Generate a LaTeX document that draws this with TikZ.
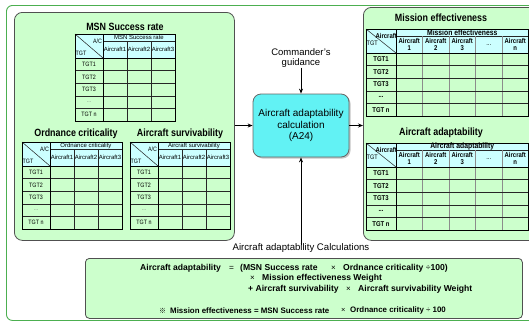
\documentclass[tikz,border=0pt]{standalone}
\usepackage{fontspec}
\setmainfont{Liberation Sans}
\newfontfamily\condfont{Liberation Sans}[FakeStretch=0.85]
\newfontfamily\cjk{Noto Sans CJK KR}
\usetikzlibrary{arrows.meta,shadows}
\definecolor{panelgreen}{HTML}{CCFFCC}
\definecolor{hdrcyan}{HTML}{CCFFFF}
\definecolor{boxcyan}{HTML}{62F2F4}
\definecolor{outergreen}{HTML}{4CAF50}
\definecolor{bordergray}{HTML}{505050}
\tikzset{
  panel/.style={draw=bordergray, fill=panelgreen, rounded corners=8pt, line width=0.8pt, inner sep=0pt, anchor=north west},
  ttl/.style={font=\condfont\bfseries\fontsize{10.5}{12}\selectfont, inner sep=0pt},
  cell/.style={font=\condfont\fontsize{6.3}{6.5}\selectfont, inner sep=0pt},
  hcell/.style={font=\fontsize{6}{6.5}\selectfont, inner sep=0pt},
  rcell/.style={font=\condfont\bfseries\fontsize{7}{7.2}\selectfont, inner sep=0pt, align=center},
  grid/.style={line width=0.5pt, draw=black!85},
  tborder/.style={line width=0.8pt, draw=black},
  arr/.style={-{Stealth[length=5pt,width=4pt]}, line width=0.9pt},
  fml/.style={font=\bfseries\fontsize{8.6}{9}\selectfont, inner sep=0pt, anchor=west},
  fmls/.style={font=\bfseries\fontsize{7.9}{8}\selectfont, inner sep=0pt, anchor=west},
}
\newcommand\lefttable[4]{%
\begin{scope}[shift={(#1,#2)}]
  \fill[hdrcyan] (0,0) rectangle (100,24);
  \draw[grid] (28,7.5) -- (100,7.5);
  \draw[grid] (52,7.5) -- (52,87) (76,7.5) -- (76,87);
  \foreach \k in {1,...,4} \draw[grid] (0,24+12.6*\k) -- (100,24+12.6*\k);
  \draw[tborder] (0,24) -- (100,24) (28,0) -- (28,87);
  \draw[grid] (0,0) -- (28,24);
  \draw[tborder] (0,0) rectangle (100,87);
  \node[cell,anchor=north east] (#3ac) at (27.3,5) {A/C};
  \node[cell,anchor=west] (#3tgt) at (0.5,19) {TGT};
  \node[hcell] (#3hd) at (64,3.6) {#4};
  \node[hcell] (#3c1) at (40,15.8) {Aircraft1};
  \node[hcell] (#3c2) at (64,15.8) {Aircraft2};
  \node[hcell] (#3c3) at (88,15.8) {Aircraft3};
  \node[cell] (#3r1) at (14,30.3) {TGT1};
  \node[cell] (#3r2) at (14,42.9) {TGT2};
  \node[cell] (#3r3) at (14,55.5) {TGT3};
  \node[cell,text=black!50] (#3r4) at (14,68.1) {...};
  \node[cell] (#3r5) at (14,80.7) {TGT n};
\end{scope}}
\newcommand\righttable[4]{%
\begin{scope}[shift={(#1,#2)}]
  \fill[hdrcyan] (0,0) rectangle (162.5,24);
  \draw[grid] (30,7) -- (162.5,7);
  \foreach \c in {56.5,83,109.5,136} \draw[grid, line width=1pt, draw=black!45] (\c,7) -- (\c,87);
  \foreach \k in {1,...,4} \draw[grid] (0,24+12.6*\k) -- (162.5,24+12.6*\k);
  \draw[tborder] (0,24) -- (162.5,24) (30,0) -- (30,87);
  \draw[grid] (0,0) -- (30,24);
  \draw[tborder] (0,0) rectangle (162.5,87);
  \node[rcell,anchor=east] (#3ac) at (31,7) {Aircraft};
  \node[rcell,anchor=west,font=\condfont\fontsize{6.5}{7}\selectfont] (#3tgt) at (0.5,14) {TGT};
  \node[rcell,font=\condfont\bfseries\fontsize{8}{8}\selectfont] (#3hd) at (96.25,3.4) {#4};
  \node[rcell] (#3c1) at (43.25,15.8) {Aircraft\\1};
  \node[rcell] (#3c2) at (69.75,15.8) {Aircraft\\2};
  \node[rcell] (#3c3) at (96.25,15.8) {Aircraft\\3};
  \node[rcell,font=\condfont\fontsize{7}{7}\selectfont] (#3c4) at (122.75,15.8) {...};
  \node[rcell] (#3c5) at (149.25,15.8) {Aircraft\\n};
  \node[rcell] (#3r1) at (15,30.3) {TGT1};
  \node[rcell] (#3r2) at (15,42.9) {TGT2};
  \node[rcell] (#3r3) at (15,55.5) {TGT3};
  \node[rcell] (#3r4) at (15,68.1) {...};
  \node[rcell] (#3r5) at (15,80.7) {TGT n};
\end{scope}}
\begin{document}
\begin{tikzpicture}[x=1pt,y=-1pt]
\useasboundingbox (0,0) rectangle (529,322);
% outer frame
\node[draw=outergreen, fill=white, line width=0.9pt, rounded corners=6pt, inner sep=0pt, anchor=north west, minimum width=540pt, minimum height=315pt] (outer) at (6,5) {};
% panels
\node[panel, minimum width=220pt, minimum height=228pt] (lp) at (14,12) {};
\node[panel, minimum width=175pt, minimum height=233pt] (rp) at (363,7) {};
% left panel content
\node[ttl] (t1) at (125,27) {MSN Success rate};
\lefttable{75}{34}{msn}{MSN Success rate}
\node[ttl] (t2) at (76,134) {Ordnance criticality};
\lefttable{22}{142}{ord}{Ordnance criticality}
\node[ttl] (t3) at (180,134) {Aircraft survivability};
\lefttable{130}{142}{sur}{Aircraft survivability}
% right panel content
\node[ttl] (t4) at (441,18) {Mission effectiveness};
\righttable{366}{29}{me}{Mission effectiveness}
\node[ttl] (t5) at (441,133) {Aircraft adaptability};
\righttable{366}{143}{aa}{Aircraft adaptability}
% centre
\node[draw=black!60, fill=boxcyan, rounded corners=8pt, line width=0.8pt, minimum width=96pt, minimum height=63pt, align=center, inner sep=0pt,
  drop shadow={shadow xshift=1.5pt, shadow yshift=-1.5pt, fill=black!45},
  font=\fontsize{10}{11.2}\selectfont] (calc) at (301,125.5) {Aircraft adaptability\\calculation\\(A24)};
\node[align=center, inner sep=0pt, font=\fontsize{9.5}{10}\selectfont] (cmd) at (301,58) {Commander's\\guidance};
\node[inner sep=0pt, font=\fontsize{9.6}{10}\selectfont] (calclab) at (301,248) {Aircraft adaptability Calculations};
\draw[arr] (cmd.south) -- (calc.north);
\draw[arr] (lp.east |- calc.west) -- (calc.west);
\draw[arr] (calc.east) -- (calc.east -| rp.west);
\draw[arr] ([yshift=-2pt]calclab.north) -- (calc.south);
% formula box
\node[draw=bordergray, fill=panelgreen, rounded corners=4pt, line width=0.8pt, inner sep=0pt, anchor=north west, minimum width=437pt, minimum height=60pt] (fbox) at (85,258) {};
\node[fml] (f1a) at (140,268) {Aircraft adaptability};
\node[fml, font=\fontsize{8.3}{9}\selectfont] (f1b) at (229,268) {=};
\node[fml] (f1c) at (240,268) {(MSN Success rate};
\node[fml, font=\fontsize{8}{9}\selectfont] (f1d) at (331,268) {×};
\node[fml] (f1e) at (343,268) {Ordnance criticality {\mdseries ÷}100)};
\node[fml, font=\fontsize{8}{9}\selectfont] (f2a) at (250,278.5) {×};
\node[fml] (f2b) at (262,278.5) {Mission effectiveness Weight};
\node[fml] (f3a) at (248,289) {+ Aircraft survivability};
\node[fml, font=\fontsize{8}{9}\selectfont] (f3b) at (346,289) {×};
\node[fml] (f3c) at (358,289) {Aircraft survivability Weight};
\node[fmls, font=\cjk\fontsize{7}{8}\selectfont] (f4a) at (159,310.5) {※};
\node[fmls] (f4b) at (170,310.5) {Mission effectiveness = MSN Success rate};
\node[fmls, font=\fontsize{7.5}{8}\selectfont] (f4c) at (341,310.5) {×};
\node[fmls] (f4d) at (350,310.5) {Ordnance criticality {\mdseries ÷} 100};
\end{tikzpicture}
\end{document}
